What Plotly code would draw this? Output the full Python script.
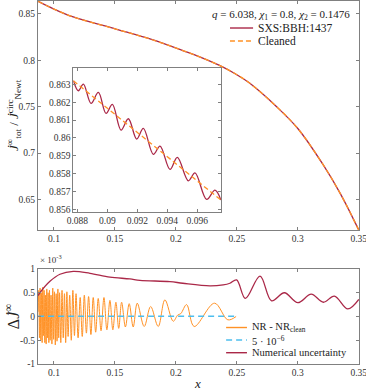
import plotly.graph_objects as go

# main panel: normalised flux (NR and cleaned coincide at this scale)
x_main = [0.0870, 0.1000, 0.1158, 0.1514, 0.1800, 0.2057, 0.2200, 0.2358, 0.2500,
          0.2604, 0.2822, 0.3000, 0.3205, 0.3350, 0.3500]
y_main = [0.8637, 0.8553, 0.8468, 0.8335, 0.8225, 0.8105, 0.8035, 0.7945, 0.7845,
          0.7755, 0.7505, 0.7265, 0.6880, 0.6560, 0.6170]

# inset: NR oscillation extrema and cleaned line
x_inset = [0.087735, 0.088069, 0.088402, 0.088913, 0.089402, 0.089913, 0.090335,
           0.090913, 0.091402, 0.091958, 0.092402, 0.093069, 0.093513, 0.094180,
           0.094669, 0.095402, 0.095847, 0.096624, 0.097180, 0.097580]
y_inset = [0.863203, 0.862643, 0.863017, 0.861934, 0.862550, 0.861374, 0.861878,
           0.860440, 0.861075, 0.859936, 0.860533, 0.859077, 0.859543, 0.858237,
           0.858909, 0.857601, 0.858049, 0.856556, 0.857078, 0.856518]
x_inset_clean = [0.087735, 0.097580]
y_inset_clean = [0.863200, 0.856520]

# bottom panel: residual NR - NR_clean (units of 1e-3)
x_res = [0.0870, 0.0875, 0.0881, 0.0886, 0.0892, 0.0897, 0.0903, 0.0908, 0.0914,
         0.0919, 0.0925, 0.0930, 0.0936, 0.0941, 0.0947, 0.0952, 0.0958, 0.0963,
         0.0969, 0.0976, 0.0983, 0.0990, 0.0997, 0.1004, 0.1011, 0.1018, 0.1025,
         0.1032, 0.1039, 0.1046, 0.1056, 0.1066, 0.1076, 0.1086, 0.1096, 0.1106,
         0.1116, 0.1129, 0.1142, 0.1155, 0.1168, 0.1181, 0.1198, 0.1215, 0.1232,
         0.1249, 0.1266, 0.1284, 0.1303, 0.1322, 0.1342, 0.1363, 0.1386, 0.1410,
         0.1434, 0.1459, 0.1483, 0.1508, 0.1531, 0.1555, 0.1586, 0.1617, 0.1650,
         0.1683, 0.1740, 0.1793, 0.1855, 0.1910, 0.1978, 0.2015, 0.2040, 0.2088,
         0.2150, 0.2317, 0.2426, 0.2494]
y_res = [0.10, 0.55, -0.45, 0.60, -0.50, 0.50, -0.55, 0.62, -0.40,
         0.55, -0.55, 0.45, -0.58, 0.58, -0.45, 0.50, -0.55, 0.55,
         -0.50, 0.45, -0.58, 0.60, -0.48, 0.52, -0.60, 0.48, -0.52,
         0.58, -0.45, 0.50, -0.55, 0.55, -0.45, 0.48, -0.55, 0.52,
         -0.42, 0.45, -0.50, 0.55, -0.40, 0.48, -0.45, 0.40, -0.42,
         0.45, -0.35, 0.42, -0.38, 0.40, -0.33, 0.38, -0.30, 0.40,
         -0.28, 0.34, -0.28, 0.30, -0.25, 0.30, -0.22, 0.27, -0.22,
         0.28, -0.21, 0.21, -0.21, 0.35, -0.10, 0.03, 0.06, 0.25,
         -0.21, 0.28, -0.07, 0.00]

x_ref = [0.087, 0.250]
y_ref = [0.005, 0.005]

x_unc = [0.0870, 0.0885, 0.0967, 0.1049, 0.1158, 0.1295, 0.1459, 0.1623, 0.1705,
         0.1951, 0.2057, 0.2279, 0.2388, 0.2443, 0.2498, 0.2570, 0.2690, 0.2785,
         0.2890, 0.3000, 0.3110, 0.3210, 0.3300, 0.3410, 0.3500]
y_unc = [0.44, 0.50, 0.74, 0.89, 0.95, 0.91, 0.83, 0.79, 0.76,
         0.735, 0.70, 0.645, 0.666, 0.70, 0.77, 0.38, 0.85, 0.33,
         0.50, 0.29, 0.47, 0.30, 0.43, 0.16, 0.36]

x_ticks = [0.1, 0.15, 0.2, 0.25, 0.3, 0.35]
x_ticktext = ['0.1', '0.15', '0.2', '0.25', '0.3', '0.35']
y_ticks = [0.65, 0.7, 0.75, 0.8, 0.85]
y_ticktext = ['0.65', '0.7', '0.75', '0.8', '0.85']
xi_ticks = [0.088, 0.09, 0.092, 0.094, 0.096]
xi_ticktext = ['0.088', '0.09', '0.092', '0.094', '0.096']
yi_ticks = [0.856, 0.857, 0.858, 0.859, 0.86, 0.861, 0.862, 0.863]
yi_ticktext = ['0.856', '0.857', '0.858', '0.859', '0.86', '0.861', '0.862', '0.863']
yb_ticks = [-1, -0.5, 0, 0.5, 1]
yb_ticktext = ['-1', '-0.5', '0', '0.5', '1']

RED = '#AA2848'
ORANGE = '#FF9226'
CYAN = '#4DBEEE'
FONT = 'Liberation Serif'
TXT = '#222222'

fig = go.Figure()

fig.add_trace(go.Scatter(x=x_main, y=y_main, mode='lines', line=dict(color=RED, width=1.3, shape='spline'),
                         name='SXS:BBH:1437', xaxis='x', yaxis='y'))
fig.add_trace(go.Scatter(x=x_main, y=y_main, mode='lines',
                         line=dict(color=ORANGE, width=1.3, dash='5px,3px', shape='spline'),
                         name='Cleaned', xaxis='x', yaxis='y'))

fig.add_trace(go.Scatter(x=x_inset, y=y_inset, mode='lines', line=dict(color=RED, width=1.3, shape='spline'),
                         xaxis='x3', yaxis='y3'))
fig.add_trace(go.Scatter(x=x_inset_clean, y=y_inset_clean, mode='lines',
                         line=dict(color=ORANGE, width=1.3, dash='5px,3px'),
                         xaxis='x3', yaxis='y3'))

fig.add_trace(go.Scatter(x=x_res, y=y_res, mode='lines', line=dict(color=ORANGE, width=1, shape='spline'),
                         name='NR - NR clean', xaxis='x2', yaxis='y2'))
fig.add_trace(go.Scatter(x=x_ref, y=y_ref, mode='lines', line=dict(color=CYAN, width=1.6, dash='6px,4px'),
                         name='5e-6', xaxis='x2', yaxis='y2'))
fig.add_trace(go.Scatter(x=x_unc, y=y_unc, mode='lines', line=dict(color=RED, width=1.3, shape='spline'),
                         name='Numerical uncertainty', xaxis='x2', yaxis='y2'))

ax = dict(showline=True, linecolor='#808080', linewidth=1, mirror='ticks', ticks='inside',
          ticklen=3, tickcolor='#808080', showgrid=False, zeroline=False, automargin=False,
          ticklabeloverflow='allow',
          tickfont=dict(family=FONT, size=9.5, color='#333333'))

# legend samples (paper coordinates) -- drawn by hand for MATLAB-like tight spacing
legend_items = [
    # (x0, x1, y, colour, dash, text, text size)
    (0.598, 0.670, 0.9256, RED, 'solid', 'SXS:BBH:1437', 11.5),
    (0.598, 0.670, 0.8898, ORANGE, '5px,3px', 'Cleaned', 11.5),
    (0.586, 0.651, 0.1005, ORANGE, 'solid', 'NR - NR<sub>clean</sub>', 10.5),
    (0.586, 0.651, 0.0661, CYAN, '6px,4px', '5 · 10<sup>−6</sup>', 10.5),
    (0.586, 0.651, 0.0311, RED, 'solid', 'Numerical uncertainty', 10.5),
]
shapes = []
annotations = []
for x0, x1, yy, col, dash, txt, fs in legend_items:
    shapes.append(dict(type='line', xref='paper', yref='paper', x0=x0, x1=x1, y0=yy, y1=yy,
                       line=dict(color=col, width=1.4 if col != CYAN else 1.6, dash=dash)))
    annotations.append(dict(text=txt, xref='paper', yref='paper', x=x1 + 0.008, y=yy,
                            xanchor='left', yanchor='middle', showarrow=False,
                            font=dict(family=FONT, size=fs, color=TXT)))

annotations += [
    dict(text='<i>q</i> = 6.038, <i>χ</i><sub>1</sub> = 0.8, <i>χ</i><sub>2</sub> = 0.1476',
         xref='paper', yref='paper', x=0.978, y=0.962, xanchor='right', yanchor='middle',
         showarrow=False, font=dict(family=FONT, size=11, color=TXT)),
    dict(text='<i>J̇</i><sup>∞</sup><sub>tot</sub> / <i>J̇</i><sup>circ</sup><sub>Newt</sub>',
         xref='paper', yref='paper', x=-0.075, y=0.686, textangle=-90,
         xanchor='center', yanchor='middle', showarrow=False,
         font=dict(family=FONT, size=13, color=TXT)),
    dict(text='Δ<i>J̇</i><sup>∞</sup>', xref='paper', yref='paper', x=-0.08, y=0.13,
         textangle=-90, xanchor='center', yanchor='middle', showarrow=False,
         font=dict(family=FONT, size=16, color=TXT)),
    dict(text='× 10<sup>-3</sup>', xref='paper', yref='paper', x=0.0, y=0.266,
         xanchor='left', yanchor='bottom', showarrow=False,
         font=dict(family=FONT, size=9, color='#333333')),
    dict(text='<i>x</i>', xref='paper', yref='paper', x=0.498, y=-0.055,
         xanchor='center', yanchor='middle', showarrow=False,
         font=dict(family=FONT, size=13, color=TXT)),
]

fig.update_layout(
    width=366, height=392,
    margin=dict(l=38, r=7, t=1, b=28, autoexpand=False),
    paper_bgcolor='white', plot_bgcolor='white',
    font=dict(family=FONT, color=TXT),
    showlegend=False,
    xaxis=dict(ax, domain=[0, 1], range=[0.0869, 0.3502], tickvals=x_ticks, ticktext=x_ticktext, anchor='y'),
    yaxis=dict(ax, domain=[0.369, 1], range=[0.617, 0.864], tickvals=y_ticks, ticktext=y_ticktext, anchor='x'),
    xaxis2=dict(ax, domain=[0, 1], range=[0.0869, 0.3502], tickvals=x_ticks, ticktext=x_ticktext, anchor='y2'),
    yaxis2=dict(ax, domain=[0, 0.2617], range=[-1, 1], tickvals=yb_ticks, ticktext=yb_ticktext, anchor='x2'),
    xaxis3=dict(ax, domain=[0.110, 0.570], range=[0.08773, 0.09758], tickvals=xi_ticks,
                ticktext=xi_ticktext, anchor='y3'),
    yaxis3=dict(ax, domain=[0.4196, 0.8146], range=[0.85587, 0.86390], tickvals=yi_ticks,
                ticktext=yi_ticktext, anchor='x3'),
    shapes=shapes,
    annotations=annotations,
)

# the page's default body margin would shift the 366x392 figure; remove it
fig.write_html("out.html", config={'displayModeBar': False},
               post_script="document.body.style.margin='0';document.body.style.overflow='hidden';")
